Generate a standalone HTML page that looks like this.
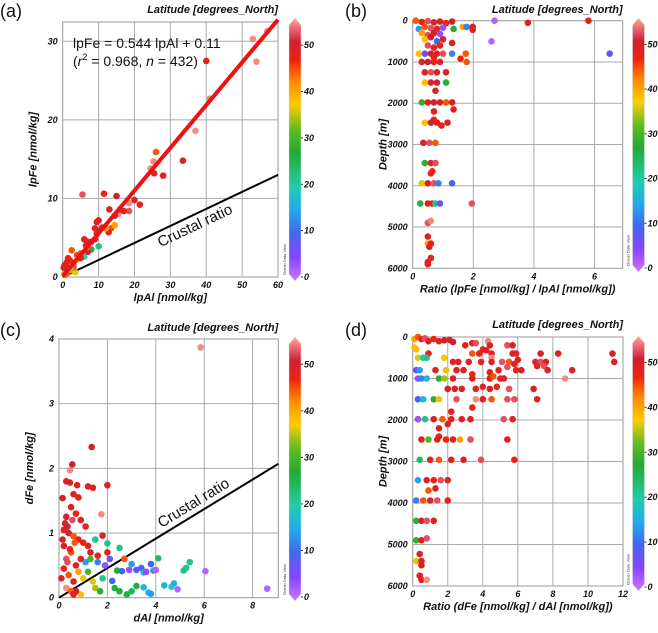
<!DOCTYPE html>
<html><head><meta charset="utf-8"><style>
body{margin:0;background:#fff;}
svg{display:block;font-family:"Liberation Sans",sans-serif;}
.tk{font-size:9px;font-weight:bold;font-style:italic;fill:#111;}
.ttl{font-size:11px;font-weight:bold;font-style:italic;fill:#111;}
.lt{font-size:18px;fill:#111;}
</style></head><body>
<svg id="fig" width="658" height="633" viewBox="0 0 658 633">
<defs>
<linearGradient id="cg" x1="0" y1="1" x2="0" y2="0">
<stop offset="0" stop-color="#cc77ff"/><stop offset="0.09" stop-color="#8844ff"/><stop offset="0.18" stop-color="#4466ee"/>
<stop offset="0.27" stop-color="#22aaee"/><stop offset="0.36" stop-color="#22ccaa"/><stop offset="0.49" stop-color="#22aa33"/>
<stop offset="0.58" stop-color="#66bb22"/><stop offset="0.67" stop-color="#ffcc00"/><stop offset="0.76" stop-color="#ff8800"/>
<stop offset="0.84" stop-color="#ee2211"/><stop offset="0.91" stop-color="#cc2233"/><stop offset="0.96" stop-color="#ee6677"/><stop offset="1" stop-color="#f5b088"/>
</linearGradient></defs>
</svg>
<script>
// Panel (a): lpAl, lpFe, latitude
const aX=[57,53,54,40,41,37,33.5,28,26,25.3,25.5,24.5,21.5,20,18.5,18.5,17,15.5,15,14.5,13,13.5,14.5,12.8,11.5,10,9.5,10,9,9,10,8,7,6,6.5,5.5,5,6,4,3.5,3,2.5,2,1.5,1,1,0.5,0.3,2,3,4,7,8,12,16,11,5,3,1.5,0.8,2.2,4.5,6.8,9.5,1.2,0.5];
const aY=[31.3,30.3,27.4,27.5,22.7,18.6,14.8,12.9,15.9,14.7,13.2,13.8,9.2,9.8,9.4,8.4,8.4,8,10.3,7.8,8.6,6.2,6.6,5.7,10.6,7.2,7,5.8,6.2,4.8,3.9,3.5,3.2,4.8,4,10.5,3,2.6,2.8,0.6,1.8,3.4,2.1,2.4,1.4,0.8,0.4,1.2,1,1.5,2.2,3.8,4.5,6.2,8.6,6.3,2.4,1.2,0.6,0.3,0.9,2.6,4.5,5.5,1.9,1.5];
const aLat=[54,54,54,48,54,54,48,48,44,54,48,54,48,48,54,52,48,54,50,48,48,44,40,48,46,48,48,50,48,48,22,28,50,48,48,52,44,20,44,38,44,44,48,46,48,44,40,50,20,30,36,52,48,40,48,50,48,52,46,44,34,48,48,46,48,48];
// Panel (b): ratio lpFe/lpAl, depth, latitude
const bX=[0.1,0.3,0.5,0.7,0.9,1.1,1.3,2.7,3.8,5.8,0.2,0.4,0.6,0.8,1.0,1.35,1.65,1.78,1.98,1.98,0.3,0.5,0.7,0.9,0.4,0.6,0.8,1.0,1.3,2.6,0.5,0.7,0.9,0.2,0.4,0.6,0.8,1.0,1.3,1.75,6.5,1.58,1.78,0.3,0.5,0.7,0.9,0.7,0.4,0.6,0.8,1.1,0.4,0.6,0.8,1.1,0.75,0.3,0.5,0.7,0.9,1.1,1.3,1.35,0.7,0.7,0.4,0.6,0.8,1.15,0.95,0.35,0.55,0.75,0.4,0.6,0.75,0.65,0.6,0.3,0.5,0.7,0.85,1.3,0.25,0.5,0.65,0.75,0.9,1.95,0.5,0.6,0.5,0.5,0.6,0.55,0.6,0.5,0.5];
const bY=[0,30,10,40,20,60,20,0,50,0,200,150,180,200,170,200,150,150,150,220,300,350,300,320,450,400,500,450,540,500,600,650,600,800,800,800,800,800,800,800,800,920,1000,1000,1000,1000,1000,900,1250,1250,1250,1250,1500,1500,1500,1500,1700,1980,1980,1980,1980,1980,1980,2150,2200,2400,2470,2470,2470,2470,2540,2960,2960,2960,3450,3450,3450,3650,3700,3940,3940,3940,3940,3940,4430,4430,4430,4430,4430,4430,4900,4850,5230,5400,5400,5480,5750,5850,5900];
const bLat=[44,48,52,50,48,46,50,2,48,48,14,44,52,48,4,26,40,12,48,48,40,52,48,4,38,50,10,48,48,2,52,48,46,38,8,50,48,52,12,44,8,46,44,48,50,48,48,46,48,52,48,48,38,48,50,26,48,28,48,50,48,44,48,48,48,48,38,50,46,48,48,48,52,44,28,48,52,46,46,36,48,52,12,10,28,48,46,22,8,52,52,54,48,40,48,48,48,48,48];
// Panel (c): dAl, dFe, latitude
const cX=[5.85,1.35,0.55,0.45,2,0.75,1.2,1.4,0.3,0.45,0.15,0.6,0.8,1.75,0.5,0.3,0.7,0.9,1.1,1.8,0.2,0.4,0.6,0.8,1.0,1.2,1.5,2,1.3,1.6,2.0,2.7,2.5,0.2,0.3,0.5,0.7,0.9,1.1,0.2,0.4,0.6,0.8,0.9,0.7,0.3,0.1,0.5,1.2,1.4,1.5,1.7,1.8,1.9,2.1,2.3,2.5,2.8,3.0,3.2,2.4,2.6,3.0,3.2,3.4,3.5,3.6,3.8,3.9,4.0,4.1,3.5,3.7,3.8,4.35,4.65,4.75,4.9,5.15,5.25,5.4,6.05,8.6,2.9,2.2,1.6,1.3,1.0,0.6,0.25,0.35,0.15,0.55,0.45,0.65,0.35];
const cY=[3.87,2.33,2.06,1.97,1.74,1.74,1.72,1.7,1.8,1.78,1.54,1.6,1.55,1.29,1.4,1.25,1.3,1.2,1.1,0.96,1.05,1.0,0.95,0.9,0.85,0.8,0.9,0.84,0.7,0.65,0.7,0.6,0.77,0.8,0.6,0.7,0.5,0.6,0.55,0.45,0.35,0.25,0.4,0.05,0.1,0.15,0.3,0.1,0.4,0.25,0.15,0.1,0.3,0.5,0.6,0.15,0.1,0.05,0.1,0.18,0.42,0.41,0.52,0.43,0.46,0.39,0.4,0.52,0.42,0.43,0.61,0.16,0.08,0.06,0.19,0.17,0.22,0.13,0.42,0.46,0.55,0.41,0.14,0.43,0.26,0.55,0.6,0.3,0.05,1.15,1.1,0.9,1.2,0.75,0.85,0.55];
const cLat=[54,50,50,54,48,48,48,48,48,48,48,48,48,54,48,50,46,48,48,48,48,50,44,48,46,48,22,22,50,48,48,44,22,50,52,44,48,48,14,46,44,48,40,38,50,54,48,44,30,36,34,28,22,4,8,26,26,26,24,26,28,10,14,8,10,16,4,10,14,2,24,16,16,14,16,20,16,2,22,22,22,2,2,4,10,12,30,36,48,48,50,48,52,46,44,52];
// Panel (d): ratio dFe/dAl, depth, latitude
const dX=[0.1,0.3,0.5,0.7,0.9,1.2,1.5,1.8,2.1,2.3,3.0,3.4,3.6,4.3,4.4,5.4,5.7,4.0,4.2,0.9,0.2,0.1,3.8,3.4,4.5,5.7,5.9,7.3,8.3,11.4,11.5,0.3,0.6,0.8,1.8,4.5,2.3,2.6,3.2,3.9,4.5,5.1,5.5,6.0,5.8,7.0,7.3,7.6,7.1,7.5,5.4,8.7,9.1,0.2,0.4,1.3,1.9,2.5,2.9,3.4,4.4,4.9,5.9,6.2,7.7,0.3,0.5,0.8,1.5,1.8,2.3,3.4,4.4,4.6,5.0,5.2,2.0,2.4,2.8,3.6,4.0,4.4,4.8,5.5,6.9,0.3,0.6,1.2,1.5,2.5,3.6,4.0,4.5,5.4,5.8,7.1,2.2,3.4,0.3,0.7,1.2,1.7,2.2,2.8,3.3,5.2,5.7,2.0,1.5,1.5,0.5,0.9,1.4,1.9,2.3,2.7,3.3,5.4,0.4,1.0,1.5,2.2,2.9,3.9,5.8,0.3,0.8,1.2,1.6,2.0,1.3,0.9,0.2,0.6,1.0,1.4,2.0,0.2,0.5,0.8,1.2,0.2,0.5,0.8,0.4,0.2,0.5,0.5,0.4,0.5,0.8];
const dY=[50,0,50,30,100,50,100,80,70,120,200,150,150,100,200,200,200,300,320,400,300,250,400,400,400,400,400,400,400,400,600,500,500,500,500,500,600,600,600,600,600,600,600,550,650,600,600,600,700,700,720,1000,800,800,800,800,800,800,800,900,850,800,800,800,800,1000,1000,1000,1000,1000,1000,1000,1000,950,1000,1000,1250,1250,1250,1250,1200,1250,1200,1250,1250,1500,1500,1500,1500,1500,1500,1500,1500,1500,1500,1500,1800,1700,1980,1980,1980,1980,1980,1980,1980,1980,1980,2100,2200,2400,2470,2470,2470,2470,2470,2470,2470,2470,2960,2960,2960,2960,2960,2960,2960,3450,3450,3450,3450,3450,3650,3700,3940,3940,3940,3940,3940,4430,4430,4430,4430,4900,4900,4850,5230,5400,5400,5500,5750,5850,5850];
const dLat=[40,44,48,52,48,46,48,50,48,50,48,48,52,54,48,52,48,46,48,48,38,38,48,44,48,48,48,48,48,48,48,36,20,22,38,54,48,48,48,48,48,52,44,48,48,48,52,48,48,52,52,54,48,8,14,48,36,48,48,46,48,48,48,48,48,4,12,16,28,34,48,48,48,44,46,48,48,48,48,48,48,48,46,52,48,10,16,28,36,52,54,48,44,52,52,48,48,46,4,22,48,44,48,48,48,52,48,48,48,48,48,30,48,46,48,40,52,48,24,48,44,48,48,52,46,14,48,46,52,48,48,44,12,44,48,52,48,26,48,52,48,28,48,52,48,36,48,48,48,48,54];
const latStops=[0,5,10,15,20,27,32,37,42,46,50,53,55];
const latCols=["#cc77ff","#8844ff","#4466ee","#22aaee","#22ccaa","#22aa33","#66bb22","#ffcc00","#ff8800","#ee2211","#cc2233","#ee6677","#f5b088"];

const NS="http://www.w3.org/2000/svg";
const svg=document.getElementById('fig');
function mk(tag,attrs,parent){const e=document.createElementNS(NS,tag);for(const k in attrs)e.setAttribute(k,attrs[k]);(parent||svg).appendChild(e);return e;}
function hex(h){return [1,3,5].map(i=>parseInt(h.substr(i,2),16));}
function latColor(v){
  v=Math.max(0,Math.min(55,v));
  for(let i=0;i<latStops.length-1;i++){if(v<=latStops[i+1]){const t=(v-latStops[i])/(latStops[i+1]-latStops[i]);const a=hex(latCols[i]),b=hex(latCols[i+1]);return 'rgb('+a.map((x,j)=>Math.round(x+(b[j]-x)*t)).join(',')+')';}}
  return latCols[latCols.length-1];
}
function panel(p){
  const g=mk('g',{});
  
  
  const sx=v=>p.x0+(v-p.xmin)/(p.xmax-p.xmin)*(p.x1-p.x0);
  const sy=p.invert?(v=>p.y0+(v-p.ymin)/(p.ymax-p.ymin)*(p.y1-p.y0)):(v=>p.y1-(v-p.ymin)/(p.ymax-p.ymin)*(p.y1-p.y0));
  mk('rect',{x:p.x0,y:p.y0,width:p.x1-p.x0,height:p.y1-p.y0,fill:'#fff',stroke:'#999','stroke-width':1},g);
  p.xt.forEach(v=>{const X=sx(v);if(v>p.xmin&&v<p.xmax)mk('line',{x1:X,x2:X,y1:p.y0,y2:p.y1,stroke:'#aaa','stroke-width':1},g);
    const t=mk('text',{x:X,y:p.y1+11,'text-anchor':'middle',class:'tk'},g);t.textContent=v;
    
    });
  p.yt.forEach(v=>{const Y=sy(v);if(v>p.ymin&&v<p.ymax)mk('line',{x1:p.x0,x2:p.x1,y1:Y,y2:Y,stroke:'#aaa','stroke-width':1},g);
    const t=mk('text',{x:p.x0-5,y:Y+3,'text-anchor':'end',class:'tk'},g);t.textContent=v;
    
    });
  if(p.crust){const l=mk('line',{x1:sx(0),y1:sy(0),x2:sx(p.xmax),y2:sy(p.crust),stroke:'#000','stroke-width':2},g);
    
    }
  for(let i=0;i<p.X.length;i++){const c=mk('circle',{cx:sx(p.X[i]),cy:sy(p.Y[i]),r:3.3,fill:latColor(p.L[i])},g);
    
    }
  if(p.fit){const l=mk('line',{x1:sx(0),y1:sy(p.fit[1]),x2:sx(p.xmax),y2:sy(p.fit[0]*p.xmax+p.fit[1]),stroke:'#ee1111','stroke-width':4},g);
    
    }
  if(p.crust){const ang=-Math.atan2((sy(0)-sy(p.crust)),(sx(p.xmax)-sx(0)))*180/Math.PI;
    const t=mk('text',{x:p.cl[0],y:p.cl[1],'text-anchor':'middle','font-size':'15',fill:'#111',transform:'rotate('+ang+' '+p.cl[0]+' '+p.cl[1]+')'},g);t.textContent='Crustal ratio';
    
    }
  // colorbar
  const cb=mk('g',{},g);
  
  
  const cx0=p.cbx,cw=12,ctop=p.cbTop,cbot=p.cbBot;
  mk('path',{d:`M${cx0} ${ctop+3} L${cx0+cw/2} ${ctop-4} L${cx0+cw} ${ctop+3} L${cx0+cw} ${cbot-3} L${cx0+cw/2} ${cbot+4} L${cx0} ${cbot-3} Z`,fill:'url(#cg)',stroke:'#ddd','stroke-width':0.5},cb);
  [0,10,20,30,40,50].forEach(v=>{const Y=cbot-v/55*(cbot-ctop);mk('line',{x1:cx0+cw,x2:cx0+cw+2,y1:Y,y2:Y,stroke:'#333'},cb);
    const t=mk('text',{x:cx0+cw+3,y:Y+3,class:'tk'},cb);t.textContent=v;});
  const od=mk('text',{x:cx0-3,y:cbot-2,'font-size':'4',fill:'#333',transform:`rotate(-90 ${cx0-3} ${cbot-2})`},cb);od.textContent='Ocean Data View';
  const tt=mk('text',{x:p.x1,y:p.titleY,'text-anchor':'end',class:'ttl'},g);tt.textContent='Latitude [degrees_North]';
  
  
  const xl=mk('text',{x:(p.x0+p.x1)/2,y:p.y1+24,'text-anchor':'middle',class:'ttl'},g);xl.textContent=p.xlab;
  
  
  const yx=p.x0-26,yy=(p.y0+p.y1)/2;
  const yl=mk('text',{x:yx,y:yy,'text-anchor':'middle',class:'ttl',transform:`rotate(-90 ${yx} ${yy})`},g);yl.textContent=p.ylab;
  
  
  const lt=mk('text',{x:p.lx,y:p.ly,class:'lt'},g);lt.textContent='('+p.id+')';
  
  
  return g;
}
panel({id:'a',x0:62.7,x1:278,y0:22,y1:277,xmin:0,xmax:60,ymin:0,ymax:32.45,xt:[0,10,20,30,40,50,60],yt:[0,10,20,30],
  X:aX,Y:aY,L:aLat,fit:[0.544,0.11],crust:13,cl:[197,230],cbx:289,cbTop:22,cbBot:277,titleY:13,xlab:'lpAl [nmol/kg]',ylab:'lpFe [nmol/kg]',lx:0,ly:17});
panel({id:'b',x0:412.7,x1:622.7,y0:20.7,y1:268.3,xmin:0,xmax:6.93,ymin:0,ymax:6000,invert:true,xt:[0,2,4,6],yt:[0,1000,2000,3000,4000,5000,6000],
  X:bX,Y:bY,L:bLat,cbx:632.5,cbTop:22,cbBot:268,titleY:13,xlab:'Ratio (lpFe [nmol/kg] / lpAl [nmol/kg])',ylab:'Depth [m]',lx:345,ly:17});
panel({id:'c',x0:59,x1:278.3,y0:339,y1:597.7,xmin:0,xmax:9.06,ymin:0,ymax:4,xt:[0,2,4,6,8],yt:[0,1,2,3,4],
  X:cX,Y:cY,L:cLat,crust:2.07,cl:[196,507],cbx:289,cbTop:341,cbBot:597,titleY:331,xlab:'dAl [nmol/kg]',ylab:'dFe [nmol/kg]',lx:0,ly:336});
panel({id:'d',x0:412.7,x1:623,y0:337,y1:586,xmin:0,xmax:12,ymin:0,ymax:6000,invert:true,xt:[0,2,4,6,8,10,12],yt:[0,1000,2000,3000,4000,5000,6000],
  X:dX,Y:dY,L:dLat,cbx:632.5,cbTop:340,cbBot:587,titleY:328,xlab:'Ratio (dFe [nmol/kg] / dAl [nmol/kg])',ylab:'Depth [m]',lx:345,ly:336});
// regression equation annotation
const e1=mk('text',{x:73,y:48,'font-size':'14',fill:'#111'});e1.textContent='lpFe = 0.544 lpAl + 0.11';


const e2=mk('text',{x:73,y:66,'font-size':'14',fill:'#111'});


e2.innerHTML='(<tspan font-style="italic">r</tspan><tspan font-size="9" dy="-6">2</tspan><tspan dy="6"> = 0.968, </tspan><tspan font-style="italic">n</tspan> = 432)';
</script>
</body></html>
